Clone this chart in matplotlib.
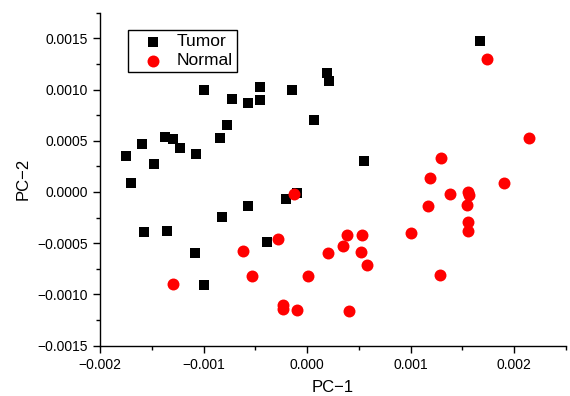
import matplotlib
matplotlib.use("Agg")
import matplotlib.pyplot as plt
from matplotlib.ticker import MultipleLocator, FuncFormatter

plt.rcParams['font.family'] = ['Liberation Sans', 'DejaVu Sans']
plt.rcParams['axes.unicode_minus'] = True

# PC scores (units of 1e-3)
tumor_x = [-1.753, -1.699, -1.593, -1.474, -1.375, -1.295, -1.230, -1.073, -0.992, -0.838,
           -0.775, -0.729, -0.568, -0.457, -0.457, -0.145, 0.064, 0.189, 0.208, 1.670,
           0.545, -1.577, -1.356, -1.079, -0.999, -0.823, -0.568, -0.389, -0.202, -0.093]
tumor_y = [0.348, 0.085, 0.467, 0.270, 0.533, 0.513, 0.428, 0.373, 1.000, 0.526,
           0.655, 0.906, 0.873, 1.020, 0.896, 1.000, 0.701, 1.160, 1.080, 1.477,
           0.299, -0.387, -0.380, -0.591, -0.912, -0.243, -0.133, -0.484, -0.071, -0.013]

normal_x = [-0.129, 1.737, 2.139, 1.297, 1.188, 1.904, 1.384, 1.554, 1.565, 1.169,
            1.541, 1.554, 1.554, 1.008, 1.281, 0.388, 0.526, 0.343, 0.205, 0.517,
            0.581, 0.010, 0.408, -0.100, -0.228, -0.228, -1.291, -0.617, -0.534, -0.279]
normal_y = [-0.020, 1.300, 0.529, 0.328, 0.133, 0.088, -0.017, 0.000, -0.025, -0.139,
            -0.130, -0.292, -0.377, -0.402, -0.808, -0.419, -0.419, -0.526, -0.594, -0.587,
            -0.708, -0.818, -1.159, -1.149, -1.107, -1.140, -0.893, -0.574, -0.815, -0.458]

tumor_x = [v * 1e-3 for v in tumor_x]
tumor_y = [v * 1e-3 for v in tumor_y]
normal_x = [v * 1e-3 for v in normal_x]
normal_y = [v * 1e-3 for v in normal_y]

fig = plt.figure(figsize=(5.7, 3.96), dpi=100)
ax = fig.add_axes([0.1754, 0.127, 0.8176, 0.841])

ax.scatter(tumor_x, tumor_y, marker='s', s=52, color='black', linewidths=0, label='Tumor', zorder=3)
ax.scatter(normal_x, normal_y, marker='o', s=74, color='red', linewidths=0, label='Normal', zorder=3)

ax.set_xlim(-0.002, 0.0025)
ax.set_ylim(-0.0015, 0.00175)

ax.xaxis.set_major_locator(MultipleLocator(0.001))
ax.xaxis.set_minor_locator(MultipleLocator(0.0005))
ax.yaxis.set_major_locator(MultipleLocator(0.0005))
ax.yaxis.set_minor_locator(MultipleLocator(0.00025))
ax.xaxis.set_major_formatter(FuncFormatter(lambda v, p: ('%.3f' % v).replace('-', '\u2212')))
ax.yaxis.set_major_formatter(FuncFormatter(lambda v, p: ('%.4f' % v).replace('-', '\u2212')))

for side in ['top', 'right']:
    ax.spines[side].set_visible(False)
for side in ['left', 'bottom']:
    ax.spines[side].set_linewidth(1.0)

ax.tick_params(which='major', direction='out', length=5, width=1, labelsize=10)
ax.tick_params(which='minor', direction='out', length=3, width=1)

ax.set_xlabel('PC\u22121', fontsize=12, labelpad=6)
ax.set_ylabel('PC\u22122', fontsize=12, labelpad=5)

leg = ax.legend(loc='upper left', bbox_to_anchor=(128 / 570, 1 - 30 / 396), bbox_transform=fig.transFigure,
                frameon=True, fancybox=False, framealpha=1, edgecolor='black', fontsize=12.5,
                handletextpad=0.15, borderpad=0.25, labelspacing=0.2, borderaxespad=0,
                handlelength=2.4)
leg.get_frame().set_linewidth(1.0)

fig.savefig('out.png', dpi=100)
